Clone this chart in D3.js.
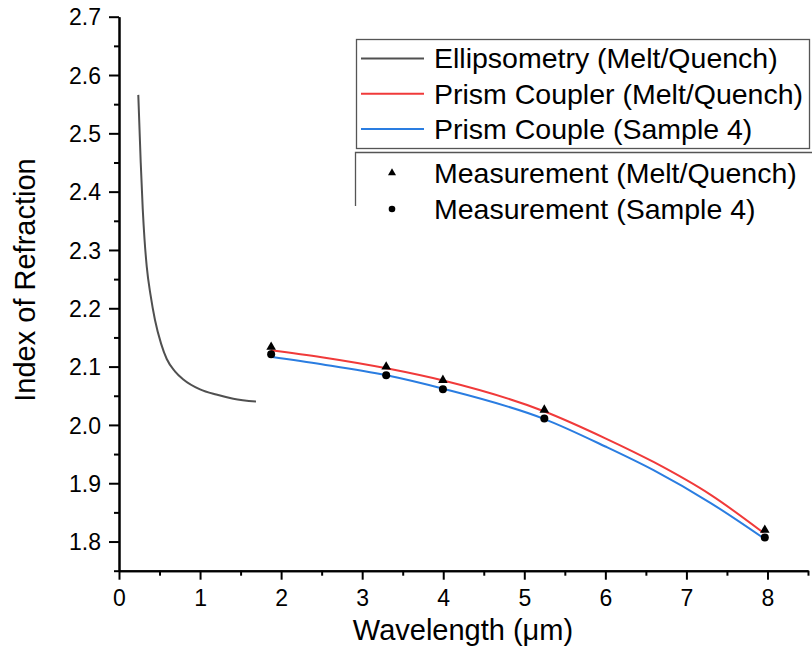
<!DOCTYPE html>
<html>
<head>
<meta charset="utf-8">
<script src="https://cdn.jsdelivr.net/npm/d3@7"></script>
<style>
  body { margin: 0; background: #fff; }
  text { font-family: Arial, "Liberation Sans", sans-serif; fill: #000; }
</style>
</head>
<body>
<svg id="chart" width="812" height="664"></svg>
<script>
// ellipsometry curve (melt/quench)
var ellipX = [0.238, 0.268, 0.293, 0.315, 0.342, 0.39, 0.444, 0.52, 0.589, 0.69, 0.794, 1.0, 1.2, 1.41, 1.69];
var ellipN = [2.566, 2.450, 2.370, 2.318, 2.272, 2.222, 2.180, 2.139, 2.113, 2.092, 2.078, 2.061, 2.052, 2.045, 2.040];

// prism coupler fits
var fitX = [1.87, 2.5, 3.3, 4.0, 5.25, 6.0, 6.6, 7.3, 7.95];
var fitMelt = [2.128, 2.116, 2.097, 2.076, 2.023, 1.977, 1.936, 1.880, 1.815];
var fitS4 = [2.117, 2.104, 2.085, 2.062, 2.010, 1.963, 1.922, 1.866, 1.806];

// measurements
var measX = [1.877, 3.296, 3.996, 5.247, 7.967];
var measMelt = [2.132, 2.098, 2.075, 2.024, 1.818];
var measS4 = [2.121, 2.085, 2.061, 2.011, 1.807];

var xMajor = [0, 1, 2, 3, 4, 5, 6, 7, 8];
var yMajor = [1.8, 1.9, 2.0, 2.1, 2.2, 2.3, 2.4, 2.5, 2.6, 2.7];

var lineNames = ['Ellipsometry (Melt/Quench)', 'Prism Coupler (Melt/Quench)', 'Prism Couple (Sample 4)'];
var lineColors = ['#505050', '#f03a3a', '#2a7de1'];
var symNames = ['Measurement (Melt/Quench)', 'Measurement (Sample 4)'];

var svg = d3.select('#chart');

var x = d3.scaleLinear().domain([0, 8.5]).range([119, 808]);
var y = d3.scaleLinear().domain([1.75, 2.7]).range([570.7, 16.7]);

// axes
var xAxis = d3.axisBottom(x).tickValues(xMajor).tickFormat(d3.format('d')).tickSize(9).tickSizeOuter(0);
var xMinor = d3.axisBottom(x).tickValues(d3.range(0.5, 8.6, 1)).tickFormat('').tickSize(5).tickSizeOuter(0);
var yAxis = d3.axisLeft(y).tickValues(yMajor).tickFormat(d3.format('.1f')).tickSize(10).tickSizeOuter(0);
var yMinor = d3.axisLeft(y).tickValues(d3.range(1.75, 2.7, 0.1)).tickFormat('').tickSize(5).tickSizeOuter(0);

function styleAxis(g) {
    g.select('.domain').attr('stroke', '#000').attr('stroke-width', 2);
    g.selectAll('.tick line').attr('stroke', '#000').attr('stroke-width', 2);
    g.selectAll('.tick text').attr('font-size', 23).attr('font-family', 'Arial, "Liberation Sans", sans-serif');
}

svg.append('g').attr('transform', 'translate(0,' + y.range()[0] + ')').call(xMinor).call(styleAxis);
svg.append('g').attr('transform', 'translate(0,' + y.range()[0] + ')').call(xAxis).call(styleAxis)
    .selectAll('.tick text').attr('dy', '1.0em');
svg.append('g').attr('transform', 'translate(' + x.range()[0] + ',0)').call(yMinor).call(styleAxis);
svg.append('g').attr('transform', 'translate(' + x.range()[0] + ',0)').call(yAxis).call(styleAxis)
    .selectAll('.tick text').attr('x', -18).attr('dy', '0.36em');

// axis titles
svg.append('text')
    .attr('x', 463).attr('y', 640)
    .attr('text-anchor', 'middle')
    .attr('font-size', 29)
    .text('Wavelength (\u03bcm)');

svg.append('text')
    .attr('transform', 'translate(35,' + 280 + ') rotate(-90)')
    .attr('text-anchor', 'middle')
    .attr('font-size', 29)
    .text('Index of Refraction');

// lines
var line = d3.line()
    .x(function (d) { return x(d[0]); })
    .y(function (d) { return y(d[1]); })
    .curve(d3.curveMonotoneX);

var series = [
    d3.zip(ellipX, ellipN),
    d3.zip(fitX, fitMelt),
    d3.zip(fitX, fitS4)
];

svg.selectAll('path.series')
    .data(series)
    .enter().append('path')
    .attr('class', 'series')
    .attr('d', line)
    .attr('fill', 'none')
    .attr('stroke', function (d, i) { return lineColors[i]; })
    .attr('stroke-width', 2);

// measurement markers
var tri = d3.symbol().type(d3.symbolTriangle).size(40);

svg.selectAll('circle.s4')
    .data(d3.zip(measX, measS4))
    .enter().append('circle')
    .attr('class', 's4')
    .attr('cx', function (d) { return x(d[0]); })
    .attr('cy', function (d) { return y(d[1]); })
    .attr('r', 4)
    .attr('fill', '#000');

svg.selectAll('path.melt')
    .data(d3.zip(measX, measMelt))
    .enter().append('path')
    .attr('class', 'melt')
    .attr('d', tri)
    .attr('transform', function (d) { return 'translate(' + x(d[0]) + ',' + (y(d[1]) - 1) + ')'; })
    .attr('fill', '#000');

// legend 1 (lines)
var leg1 = svg.append('g');
leg1.append('rect')
    .attr('x', 356.5).attr('y', 39.5).attr('width', 453).attr('height', 109)
    .attr('fill', '#fff').attr('stroke', '#555').attr('stroke-width', 1.3);

lineNames.forEach(function (name, i) {
    var cy = 58.5 + i * 35.3;
    leg1.append('line')
        .attr('x1', 361).attr('x2', 424)
        .attr('y1', cy).attr('y2', cy)
        .attr('stroke', lineColors[i]).attr('stroke-width', 2);
    leg1.append('text')
        .attr('x', 434).attr('y', cy)
        .attr('dy', '0.35em')
        .attr('font-size', 28.5)
        .text(name);
});

// legend 2 (symbols) - frame runs off the right edge
var leg2 = svg.append('g');
leg2.append('path')
    .attr('d', 'M355.5,206 V152.5 H812')
    .attr('fill', 'none').attr('stroke', '#555').attr('stroke-width', 1.3);

symNames.forEach(function (name, i) {
    var cy = 173 + i * 36;
    if (i === 0) {
        leg2.append('path')
            .attr('d', d3.symbol().type(d3.symbolTriangle).size(28))
            .attr('transform', 'translate(392,' + cy + ')')
            .attr('fill', '#000');
    } else {
        leg2.append('circle')
            .attr('cx', 392).attr('cy', cy).attr('r', 3.3)
            .attr('fill', '#000');
    }
    leg2.append('text')
        .attr('x', 434).attr('y', cy)
        .attr('dy', '0.35em')
        .attr('font-size', 28.5)
        .text(name);
});
</script>
</body>
</html>
